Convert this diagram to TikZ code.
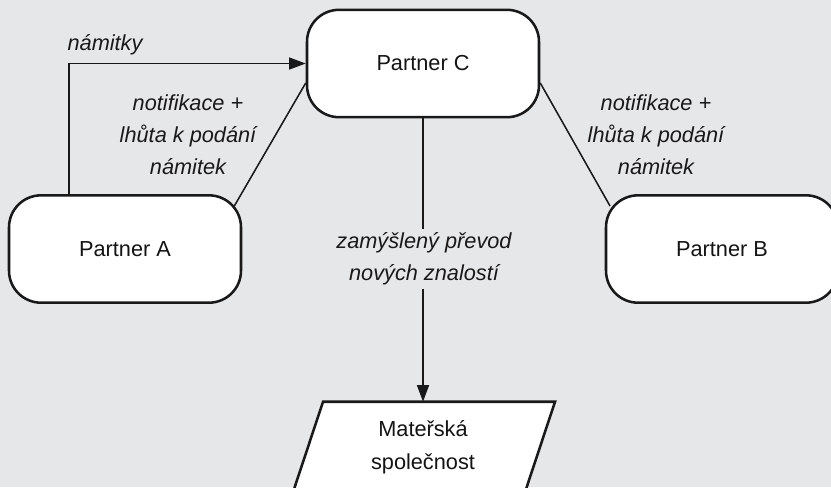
\documentclass[tikz,border=0pt]{standalone}
\usepackage{fontspec}
\setmainfont{Liberation Sans}
\usetikzlibrary{arrows.meta,calc}
\definecolor{bgc}{RGB}{230,231,233}
\pgfdeclarelayer{bgl}
\pgfdeclarelayer{lines}
\pgfsetlayers{bgl,lines,main}
\tikzset{
  box/.style={draw=black!90, line width=1.9pt, fill=white, rounded corners=24pt,
    minimum width=174pt, minimum height=80.5pt, inner sep=0pt, text=black!92,
    font=\fontsize{16.3pt}{23.5pt}\selectfont},
  lbl/.style={align=center, inner sep=1pt,
    font=\fontsize{16.3pt}{24pt}\selectfont\itshape, text=black!90},
  conn/.style={draw=black!90, line width=1.15pt},
  arr/.style={conn, -{Triangle[length=12.5pt,width=9pt]}},
}
\begin{document}
\begin{tikzpicture}[x=0.75pt,y=-0.75pt]
\useasboundingbox (0,0) rectangle (831,487);
\clip (0,0) rectangle (831,487);
\begin{pgfonlayer}{bgl}
\fill[bgc] (0,0) rectangle (831,487);
\end{pgfonlayer}

\node[box] (C) at (423,63.5) {Partner C};
\node[box] (A) at (125,249) {Partner A};
\node[box] (B) at (722,249) {Partner B};
\node[inner sep=0pt, minimum width=174pt, minimum height=67.5pt, align=center,
  font=\fontsize{16.3pt}{24.5pt}\selectfont, text=black!92] (M) at (423,447) {Mateřská\\společnost};

\begin{pgfonlayer}{lines}
\draw[line width=1.9pt, draw=black!90, fill=white]
  ([xshift=-75pt]M.north) -- ([xshift=99pt]M.north) -- ([xshift=76.5pt]M.south)
  -- ([xshift=-97.5pt]M.south) -- cycle;
\draw[arr] ([xshift=-42pt]A.north) |- (C.west);
\draw[conn] ($(A.north east)+(-6pt,-9pt)$) -- ($(C.west)+(0,-14.6pt)$);
\draw[conn] ($(C.east)+(0,-14.6pt)$) -- ($(B.north west)+(4pt,-9pt)$);
\draw[arr] (C.south) -- (M.north);
\end{pgfonlayer}

\node[lbl, anchor=west] (l1) at (66,45) {námitky};
\node[lbl] (l2) at (188,135) {notifikace +\\lhůta k podání\\námitek};
\node[lbl] (l3) at (656,135) {notifikace +\\lhůta k podání\\námitek};
\node[lbl, fill=bgc, inner sep=3pt] (l4) at (424,259) {zamýšlený převod\\nových znalostí};
\end{tikzpicture}
\end{document}
